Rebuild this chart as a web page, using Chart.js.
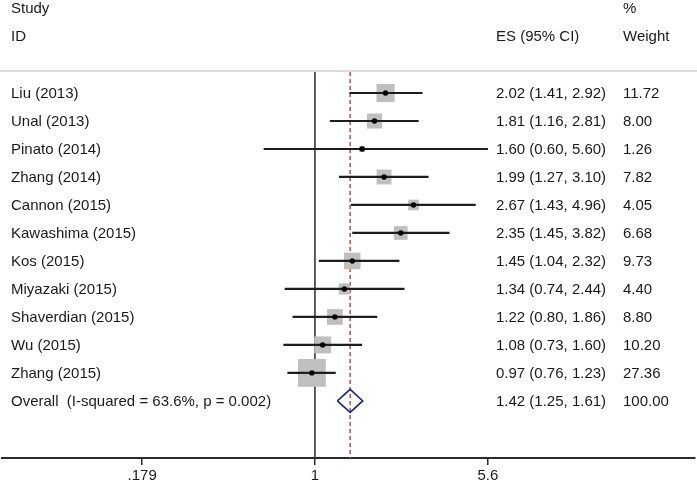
<!DOCTYPE html>
<html>
<head>
<meta charset="utf-8">
<script src="https://cdn.jsdelivr.net/npm/chart.js@4.4.1/dist/chart.umd.min.js"></script>
<style>
  html, body { margin: 0; padding: 0; background: #fff; }
  #wrap { width: 697px; height: 483px; }
</style>
</head>
<body>
<div id="wrap"><canvas id="forest" width="697" height="483"></canvas></div>
<script>
// ── Data ─────────────────────────────────────────────────────────────────────

const studies = ['Liu (2013)', 'Unal (2013)', 'Pinato (2014)', 'Zhang (2014)', 'Cannon (2015)',
  'Kawashima (2015)', 'Kos (2015)', 'Miyazaki (2015)', 'Shaverdian (2015)', 'Wu (2015)', 'Zhang (2015)'];
const es     = [2.02, 1.81, 1.60, 1.99, 2.67, 2.35, 1.45, 1.34, 1.22, 1.08, 0.97];
const ciLow  = [1.41, 1.16, 0.60, 1.27, 1.43, 1.45, 1.04, 0.74, 0.80, 0.73, 0.76];
const ciHigh = [2.92, 2.81, 5.60, 3.10, 4.96, 3.82, 2.32, 2.44, 1.86, 1.60, 1.23];
const weights = [11.72, 8.00, 1.26, 7.82, 4.05, 6.68, 9.73, 4.40, 8.80, 10.20, 27.36];

const overallLabel = 'Overall  (I-squared = 63.6%, p = 0.002)';
const overallEs = 1.42;
const overallLow = 1.25;
const overallHigh = 1.61;
const overallWeight = 100.00;

const xTicks = [0.179, 1, 5.6];
const xTickLabels = ['.179', '1', '5.6'];

// ── Helpers ──────────────────────────────────────────────────────────────────

const fmt2 = v => v.toFixed(2);
const OVERALL_ROW = studies.length;
const Y_MIN = -0.75;
const Y_MAX = 13.04;

// one CI segment per study
const ciSets = studies.map((s, i) => ({
  data: [{ x: ciLow[i], y: i }, { x: ciHigh[i], y: i }],
  showLine: true,
  borderColor: '#1e1e1e',
  borderWidth: 2.2,
  pointRadius: 0,
  order: 3,
}));

const TEXT_FONT = '15px "Liberation Sans", Arial, sans-serif';

const textPlugin = {
  id: 'forestText',
  beforeDraw(chart) {
    const { ctx } = chart;
    ctx.save();
    ctx.strokeStyle = '#dcdcdc';
    ctx.lineWidth = 2;
    ctx.beginPath();
    ctx.moveTo(0, 71);
    ctx.lineTo(697, 71);
    ctx.stroke();
    ctx.restore();
  },
  afterDraw(chart) {
    const { ctx, scales: { y } } = chart;
    ctx.save();
    ctx.font = TEXT_FONT;
    ctx.fillStyle = '#1a1a1a';
    ctx.textBaseline = 'middle';
    ctx.textAlign = 'left';

    ctx.fillText('Study', 11, y.getPixelForValue(-3));
    ctx.fillText('%', 623, y.getPixelForValue(-3));
    ctx.fillText('ID', 11, y.getPixelForValue(-2));
    ctx.fillText('ES (95% CI)', 496, y.getPixelForValue(-2));
    ctx.fillText('Weight', 623, y.getPixelForValue(-2));

    studies.forEach((s, i) => {
      const py = y.getPixelForValue(i) + 1;
      ctx.fillText(s, 11, py);
      ctx.fillText(fmt2(es[i]) + ' (' + fmt2(ciLow[i]) + ', ' + fmt2(ciHigh[i]) + ')', 496, py);
      ctx.fillText(fmt2(weights[i]), 623, py);
    });

    const po = y.getPixelForValue(OVERALL_ROW) + 1;
    ctx.fillText(overallLabel, 11, po);
    ctx.fillText(fmt2(overallEs) + ' (' + fmt2(overallLow) + ', ' + fmt2(overallHigh) + ')', 496, po);
    ctx.fillText(fmt2(overallWeight), 623, po);
    ctx.restore();
  },
};

// ── Chart ────────────────────────────────────────────────────────────────────

new Chart(document.getElementById('forest').getContext('2d'), {
  type: 'scatter',
  data: {
    datasets: [
      // null line at 1
      {
        data: [{ x: 1, y: Y_MIN }, { x: 1, y: Y_MAX }],
        showLine: true, borderColor: '#2b2b2b', borderWidth: 1.5, pointRadius: 0, order: 6,
      },
      // overall effect dashed line
      {
        data: [{ x: overallEs, y: Y_MIN }, { x: overallEs, y: Y_MAX }],
        showLine: true, borderColor: '#c8454a', borderWidth: 1.5, borderDash: [4, 3],
        pointRadius: 0, order: 5,
      },
      // weight boxes
      {
        data: studies.map((s, i) => ({ x: es[i], y: i })),
        pointStyle: 'rect',
        pointRadius: ctx => 5.3 * Math.sqrt(weights[ctx.dataIndex]) / Math.SQRT2,
        backgroundColor: '#bfbfbf',
        borderWidth: 0,
        order: 4,
      },
      ...ciSets,
      // point estimates
      {
        data: studies.map((s, i) => ({ x: es[i], y: i })),
        pointRadius: 2.7,
        backgroundColor: '#000',
        borderWidth: 0,
        order: 2,
      },
      // overall diamond
      {
        data: [
          { x: overallLow, y: OVERALL_ROW },
          { x: overallEs, y: OVERALL_ROW - 0.41 },
          { x: overallHigh, y: OVERALL_ROW },
          { x: overallEs, y: OVERALL_ROW + 0.41 },
          { x: overallLow, y: OVERALL_ROW },
        ],
        showLine: true, borderColor: '#1f2585', borderWidth: 1.6, pointRadius: 0, order: 1,
      },
    ],
  },
  options: {
    responsive: false,
    animation: false,
    devicePixelRatio: 1,
    layout: { autoPadding: false, padding: { top: 72, left: 2, right: 2, bottom: 0 } },
    plugins: { legend: { display: false }, tooltip: { enabled: false } },
    scales: {
      x: {
        type: 'logarithmic',
        bounds: 'data',
        min: 0.0443,
        max: 44.04,
        afterBuildTicks: s => { s.ticks = xTicks.map(v => ({ value: v })); },
        afterFit: s => { s.height = 25; },
        grid: { display: true, drawOnChartArea: false, drawTicks: true, tickLength: 7, color: '#2b2b2b', lineWidth: 1.5 },
        border: { display: true, color: '#2b2b2b', width: 2 },
        ticks: {
          autoSkip: false, maxRotation: 0, padding: 2, color: '#1a1a1a',
          font: { family: '"Liberation Sans", Arial, sans-serif', size: 15 },
          callback: (v, i) => xTickLabels[i],
        },
      },
      y: {
        type: 'linear',
        display: false,
        reverse: true,
        bounds: 'data',
        min: Y_MIN,
        max: Y_MAX,
      },
    },
  },
  plugins: [textPlugin],
});
</script>
</body>
</html>
